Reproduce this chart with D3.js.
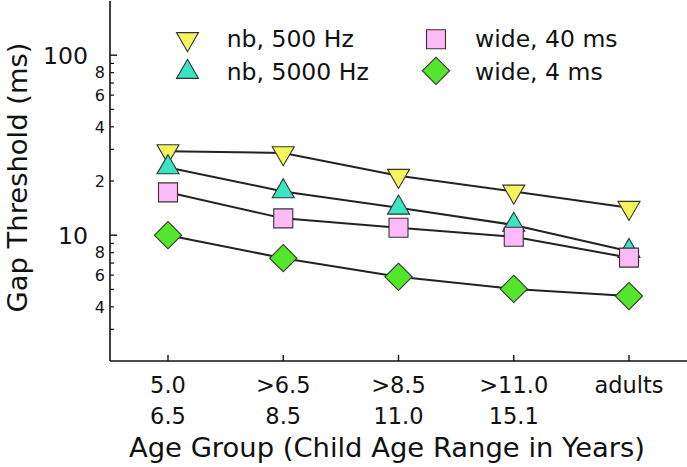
<!DOCTYPE html>
<html>
<head>
<meta charset="utf-8">
<script src="https://cdn.jsdelivr.net/npm/d3@7"></script>
<style>
  html, body { margin: 0; padding: 0; background: #fff; }
  svg { display: block; }
  text { font-family: "DejaVu Sans", sans-serif; fill: #111; }
</style>
</head>
<body>
<svg id="chart" width="687" height="467"></svg>
<script>
// ---- data ----
const groups = ["g1", "g2", "g3", "g4", "g5"];
const xLabelsLine1 = ["5.0", ">6.5", ">8.5", ">11.0", "adults"];
const xLabelsLine2 = ["6.5", "8.5", "11.0", "15.1", ""];

const seriesNames = ["nb, 500 Hz", "nb, 5000 Hz", "wide, 40 ms", "wide, 4 ms"];
const nb500  = [29.3, 28.6, 21.4, 17.5, 14.2];
const nb5000 = [23.8, 17.5, 14.2, 11.4, 8.15];
const wide40 = [17.3, 12.4, 11.0, 9.8, 7.5];
const wide4  = [10.0, 7.45, 5.87, 5.03, 4.59];

const yMajorTicks = [10, 100];
const yMajorLabels = ["10", "100"];
const yMinorLabeledTicks = [4, 6, 8, 20, 40, 60, 80];
const yMinorLabels = ["4", "6", "8", "2", "4", "6", "8"];
const yMinorTicks = [3, 4, 5, 6, 7, 8, 9, 20, 30, 40, 50, 60, 70, 80, 90];
const yDomain = [2, 200];

// ---- styling ----
const colors = ["#f4f45c", "#3ae6c2", "#fcbaf6", "#54e62c"];
const shapes = ["down", "up", "square", "diamond"];

const svg = d3.select("#chart");
const W = 687, H = 467;
const axisX = 110, axisY = 361;

const x = d3.scalePoint().domain(groups).range([168, 629]);
const y = d3.scaleLog().domain(yDomain).range([axisY, 1]);

// axes lines
svg.append("line").attr("x1", axisX).attr("x2", axisX).attr("y1", y(yDomain[1])).attr("y2", axisY)
  .attr("stroke", "#111").attr("stroke-width", 1.6);
svg.append("line").attr("x1", axisX).attr("x2", W).attr("y1", axisY).attr("y2", axisY)
  .attr("stroke", "#111").attr("stroke-width", 1.6);

// y ticks
svg.selectAll(".ymaj").data(yMajorTicks).enter().append("line")
  .attr("x1", axisX).attr("x2", axisX + 7)
  .attr("y1", d => y(d)).attr("y2", d => y(d))
  .attr("stroke", "#111").attr("stroke-width", 1.4);
svg.selectAll(".ymin").data(yMinorTicks).enter().append("line")
  .attr("x1", axisX).attr("x2", axisX + 4)
  .attr("y1", d => y(d)).attr("y2", d => y(d))
  .attr("stroke", "#111").attr("stroke-width", 1.2);

svg.selectAll(".ymajl").data(yMajorTicks).enter().append("text")
  .attr("x", 88).attr("y", d => y(d)).attr("dy", "0.36em")
  .attr("text-anchor", "end").style("font-size", "23.6px")
  .text((d, i) => yMajorLabels[i]);
svg.selectAll(".yminl").data(yMinorLabeledTicks).enter().append("text")
  .attr("x", 105).attr("y", d => y(d)).attr("dy", "0.36em")
  .attr("text-anchor", "end").style("font-size", "16px")
  .text((d, i) => yMinorLabels[i]);

// x ticks
svg.selectAll(".xt").data(groups).enter().append("line")
  .attr("x1", d => x(d)).attr("x2", d => x(d))
  .attr("y1", axisY).attr("y2", axisY - 6)
  .attr("stroke", "#111").attr("stroke-width", 1.4);
svg.selectAll(".xl1").data(groups).enter().append("text")
  .attr("x", d => x(d)).attr("y", 392.5).attr("text-anchor", "middle")
  .style("font-size", "22.5px").text((d, i) => xLabelsLine1[i]);
svg.selectAll(".xl2").data(groups).enter().append("text")
  .attr("x", d => x(d)).attr("y", 424).attr("text-anchor", "middle")
  .style("font-size", "22.5px").text((d, i) => xLabelsLine2[i]);

// titles
svg.append("text").attr("x", 387).attr("y", 456.5).attr("text-anchor", "middle")
  .style("font-size", "27.4px").text("Age Group (Child Age Range in Years)");
svg.append("text").attr("transform", "translate(26.7,177.5) rotate(-90)")
  .attr("text-anchor", "middle").style("font-size", "27.4px").text("Gap Threshold (ms)");

// series
const allSeries = [nb500, nb5000, wide40, wide4];
const line = d3.line().x((d, i) => x(groups[i])).y(d => y(d));

allSeries.forEach(s => {
  svg.append("path").attr("d", line(s)).attr("fill", "none")
    .attr("stroke", "#222").attr("stroke-width", 2);
});

function drawMarker(g, shape, color, cx, cy) {
  let path, rot = 0;
  if (shape === "down") { path = d3.symbol().type(d3.symbolTriangle).size(210)(); rot = 180; }
  else if (shape === "up") { path = d3.symbol().type(d3.symbolTriangle).size(210)(); }
  else if (shape === "square") { path = d3.symbol().type(d3.symbolSquare).size(361)(); }
  else { path = d3.symbol().type(d3.symbolSquare).size(372)(); rot = 45; }
  g.append("path").attr("d", path)
    .attr("transform", `translate(${cx},${cy}) rotate(${rot})`)
    .attr("fill", color).attr("stroke", "#333").attr("stroke-width", 1.1);
}

allSeries.forEach((s, k) => {
  s.forEach((v, i) => drawMarker(svg, shapes[k], colors[k], x(groups[i]), y(v)));
});

// legend
const legendPos = [
  { mx: 187.5, my: 39, tx: 226.7, ty: 47.3 },
  { mx: 187.5, my: 72, tx: 226.7, ty: 80 },
  { mx: 436, my: 39.2, tx: 475, ty: 47.3 },
  { mx: 436, my: 70.8, tx: 475, ty: 80 }
];
seriesNames.forEach((name, k) => {
  const p = legendPos[k];
  drawMarker(svg, shapes[k], colors[k], p.mx, p.my);
  svg.append("text").attr("x", p.tx).attr("y", p.ty).style("font-size", "23.5px").text(name);
});
</script>
</body>
</html>
